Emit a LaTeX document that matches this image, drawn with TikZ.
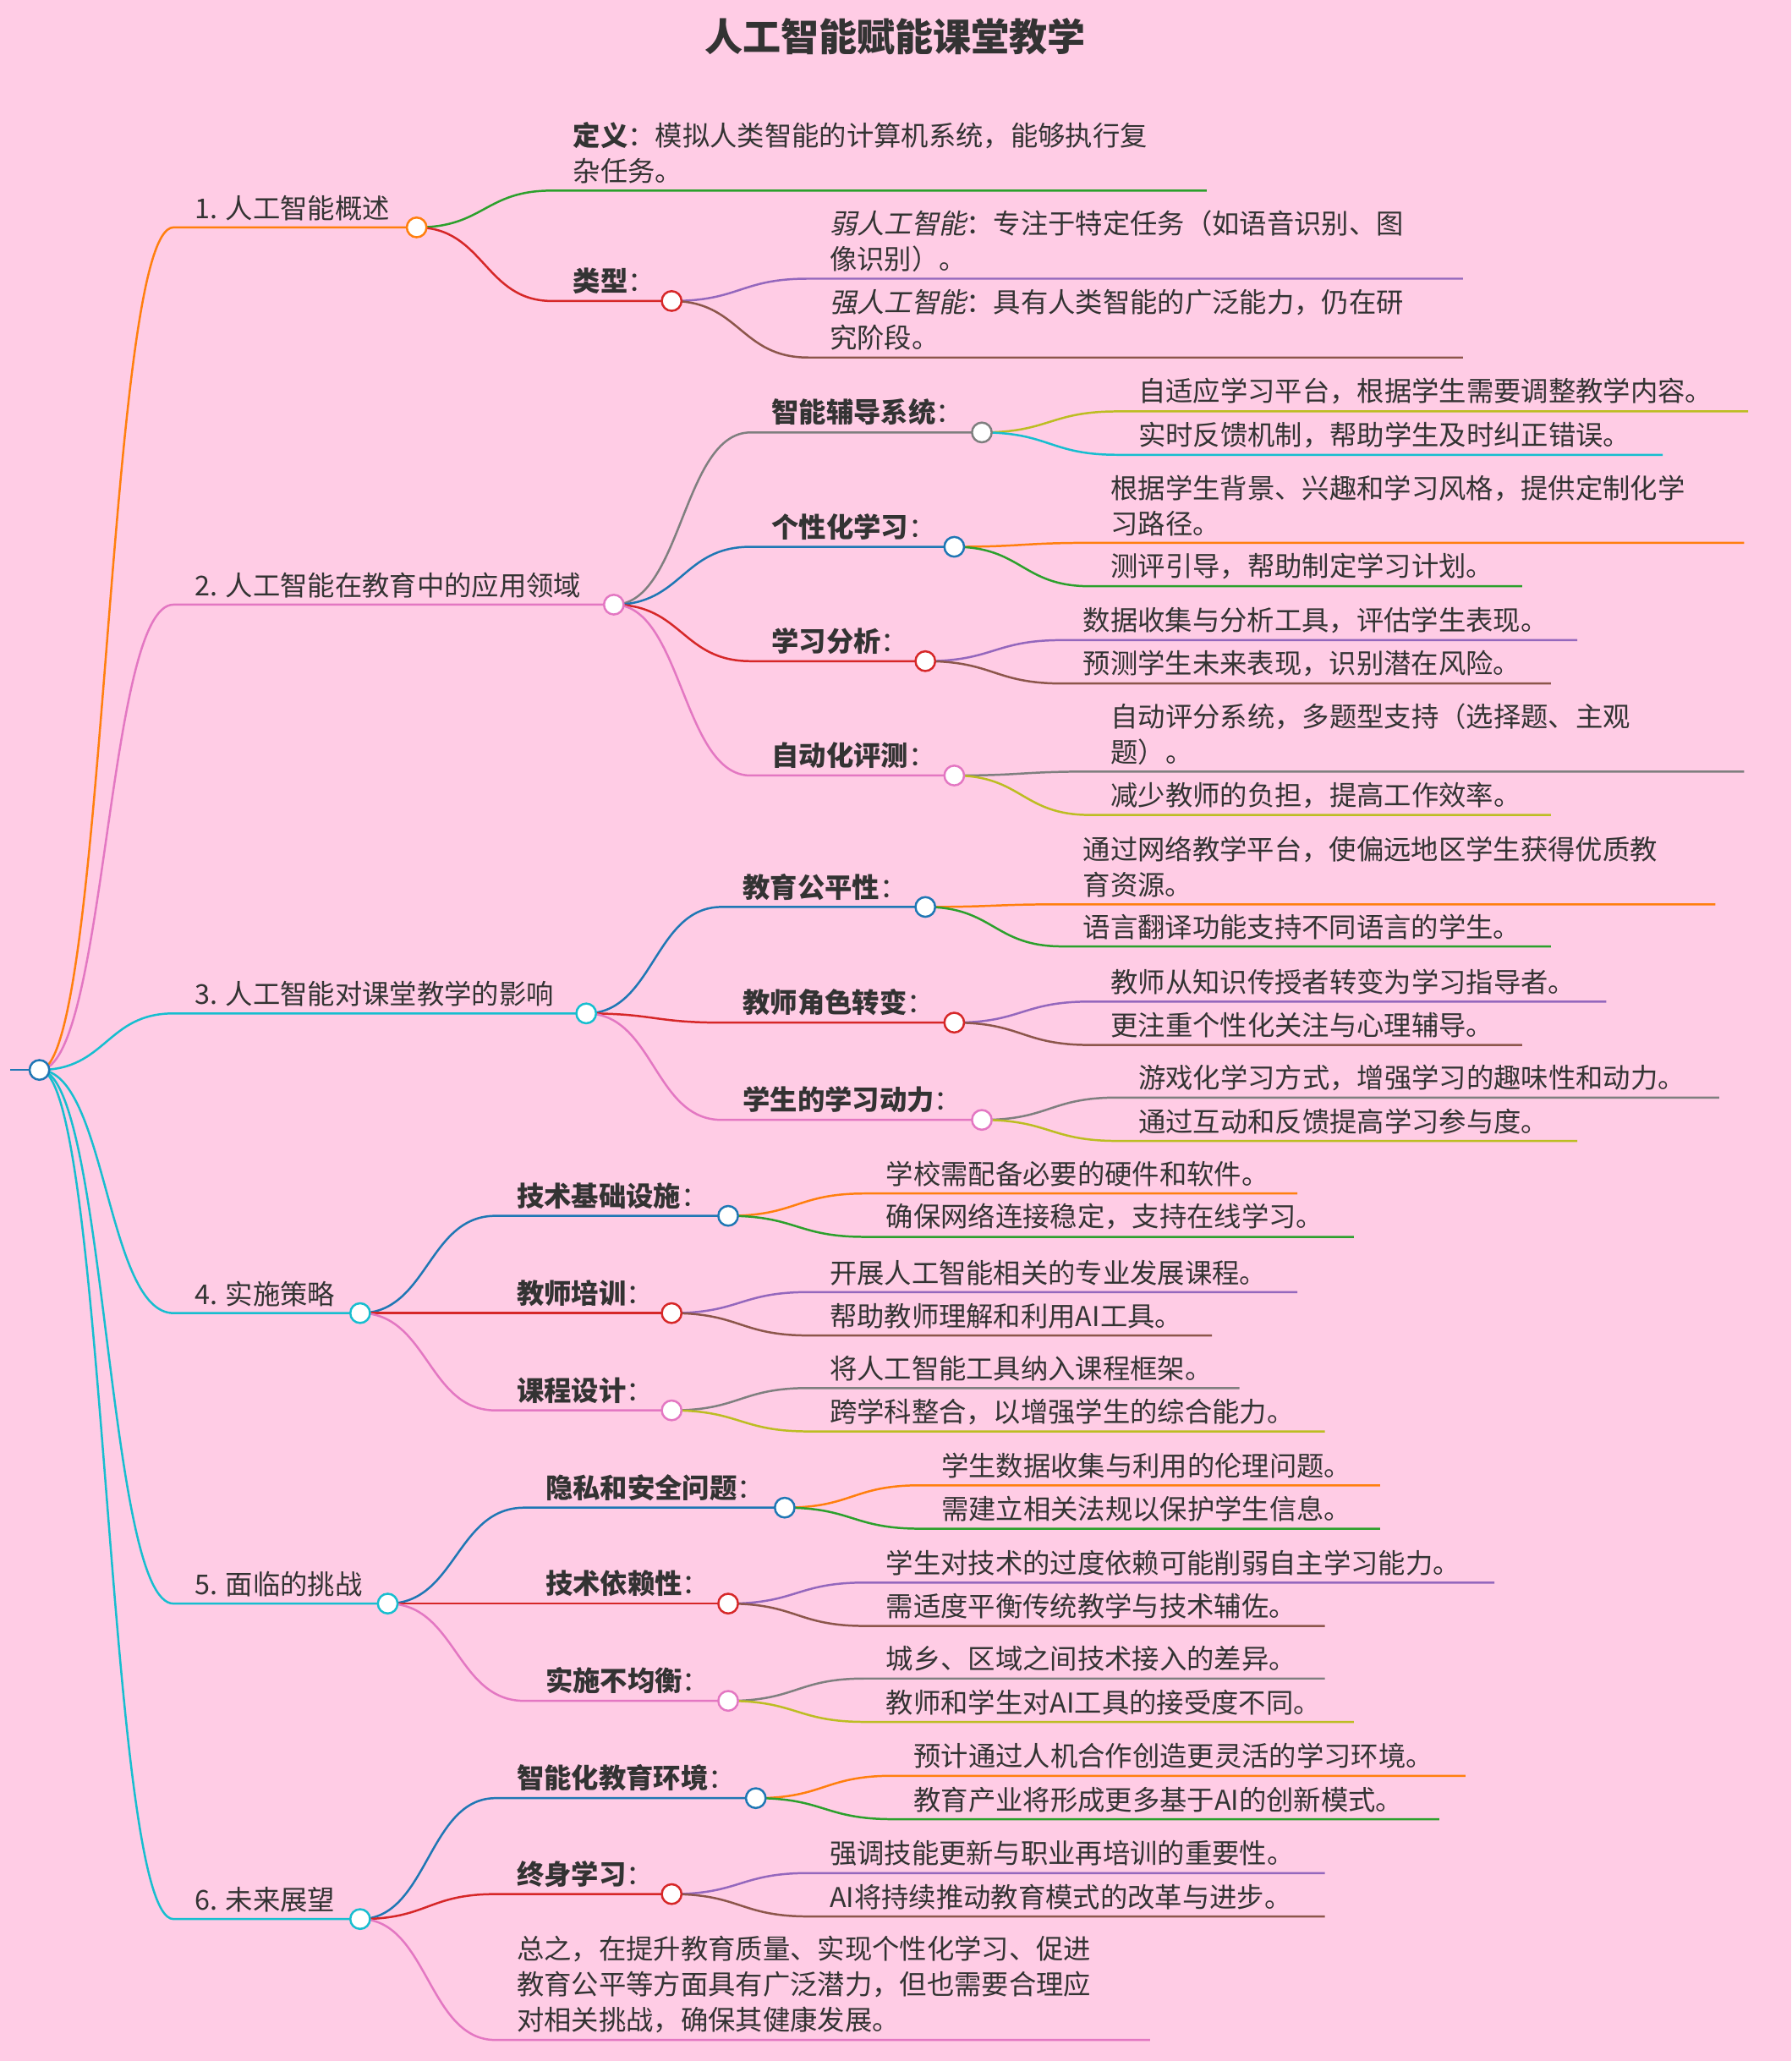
\documentclass[tikz,border=0pt]{standalone}
\usepackage{fontspec}
\setmainfont{Noto Sans CJK SC}
\newfontfamily\cjkit{Noto Sans CJK SC}[FakeSlant=0.2]
\definecolor{bg}{HTML}{FFCCE5}
\definecolor{txt}{HTML}{333333}
\definecolor{cO}{HTML}{FF7F0E}\definecolor{cG}{HTML}{2CA02C}\definecolor{cR}{HTML}{D62728}
\definecolor{cP}{HTML}{9467BD}\definecolor{cB}{HTML}{8C564B}\definecolor{cK}{HTML}{E377C2}
\definecolor{cY}{HTML}{7F7F7F}\definecolor{cL}{HTML}{BCBD22}\definecolor{cC}{HTML}{17BECF}
\definecolor{cD}{HTML}{1F77B4}
\newcommand\lv[8]{%
 \draw[ln,#6] (#1,#2) .. controls ({(#1+#3)/2},#2) and ({(#1+#3)/2},#4) .. (#3,#4) -- (#5,#4) coordinate (#7);
 \node[tx] (t#7) at ({#3+16},{#4-5}) {#8};}
\newcommand\dt[3]{\node[dotc,draw=#3] at (#1,#2) {};}
\tikzset{ln/.style={line width=1.6pt},
 tx/.style={anchor=south west,inner sep=0pt,text=txt,font=\fontsize{20.8}{27}\selectfont,align=left},
 dotc/.style={circle,fill=white,line width=1.6pt,minimum size=15pt,inner sep=0pt}}
\begin{document}
\begin{tikzpicture}[x=1pt,y=-1pt]
\fill[bg] (0,0) rectangle (1363,1568);
\useasboundingbox (0,0) rectangle (1363,1568);
\node[text=txt,font=\fontsize{29}{32}\selectfont\bfseries] (title) at (681,28) {人工智能赋能课堂教学};
\draw[ln,cD] (8,814) -- (30,814);
% level 1
\lv{30}{814}{132}{173}{317}{cO}{a}{1. 人工智能概述}
\lv{30}{814}{132}{460}{467}{cK}{b}{2. 人工智能在教育中的应用领域}
\lv{30}{814}{132}{771}{446}{cC}{c}{3. 人工智能对课堂教学的影响}
\lv{30}{814}{132}{999}{274}{cC}{d}{4. 实施策略}
\lv{30}{814}{132}{1220}{295}{cC}{e}{5. 面临的挑战}
\lv{30}{814}{132}{1460}{274}{cC}{f}{6. 未来展望}
% 1
\lv{317}{173}{420}{145}{918}{cG}{a1}{\textbf{定义}：模拟人类智能的计算机系统，能够执行复\\杂任务。}
\lv{317}{173}{420}{229}{511}{cR}{a2}{\textbf{类型}：}
\lv{511}{229}{615}{212}{1113}{cP}{a21}{{\cjkit 弱人工智能}：专注于特定任务（如语音识别、图\\像识别）。}
\lv{511}{229}{615}{272}{1113}{cB}{a22}{{\cjkit 强人工智能}：具有人类智能的广泛能力，仍在研\\究阶段。}
% 2
\lv{467}{460}{571}{329}{747}{cY}{b1}{\textbf{智能辅导系统}：}
\lv{747}{329}{850}{313}{1330}{cL}{b11}{自适应学习平台，根据学生需要调整教学内容。}
\lv{747}{329}{850}{346}{1265}{cC}{b12}{实时反馈机制，帮助学生及时纠正错误。}
\lv{467}{460}{571}{416}{726}{cD}{b2}{\textbf{个性化学习}：}
\lv{726}{416}{829}{413}{1327}{cO}{b21}{根据学生背景、兴趣和学习风格，提供定制化学\\习路径。}
\lv{726}{416}{829}{446}{1158}{cG}{b22}{测评引导，帮助制定学习计划。}
\lv{467}{460}{571}{503}{704}{cR}{b3}{\textbf{学习分析}：}
\lv{704}{503}{808}{487}{1200}{cP}{b31}{数据收集与分析工具，评估学生表现。}
\lv{704}{503}{808}{520}{1180}{cB}{b32}{预测学生未来表现，识别潜在风险。}
\lv{467}{460}{571}{590}{726}{cK}{b4}{\textbf{自动化评测}：}
\lv{726}{590}{829}{587}{1327}{cY}{b41}{自动评分系统，多题型支持（选择题、主观\\题）。}
\lv{726}{590}{829}{620}{1180}{cL}{b42}{减少教师的负担，提高工作效率。}
% 3
\lv{446}{771}{549}{690}{704}{cD}{c1}{\textbf{教育公平性}：}
\lv{704}{690}{808}{688}{1305}{cO}{c11}{通过网络教学平台，使偏远地区学生获得优质教\\育资源。}
\lv{704}{690}{808}{720}{1180}{cG}{c12}{语言翻译功能支持不同语言的学生。}
\lv{446}{771}{549}{778}{726}{cR}{c2}{\textbf{教师角色转变}：}
\lv{726}{778}{829}{762}{1222}{cP}{c21}{教师从知识传授者转变为学习指导者。}
\lv{726}{778}{829}{795}{1158}{cB}{c22}{更注重个性化关注与心理辅导。}
\lv{446}{771}{549}{852}{747}{cK}{c3}{\textbf{学生的学习动力}：}
\lv{747}{852}{850}{835}{1308}{cY}{c31}{游戏化学习方式，增强学习的趣味性和动力。}
\lv{747}{852}{850}{868}{1200}{cL}{c32}{通过互动和反馈提高学习参与度。}
% 4
\lv{274}{999}{377}{925}{554}{cD}{d1}{\textbf{技术基础设施}：}
\lv{554}{925}{658}{908}{987}{cO}{d11}{学校需配备必要的硬件和软件。}
\lv{554}{925}{658}{941}{1030}{cG}{d12}{确保网络连接稳定，支持在线学习。}
\lv{274}{999}{377}{999}{511}{cR}{d2}{\textbf{教师培训}：}
\lv{511}{999}{615}{983}{987}{cP}{d21}{开展人工智能相关的专业发展课程。}
\lv{511}{999}{615}{1016}{922}{cB}{d22}{帮助教师理解和利用AI工具。}
\lv{274}{999}{377}{1073}{511}{cK}{d3}{\textbf{课程设计}：}
\lv{511}{1073}{615}{1056}{943}{cY}{d31}{将人工智能工具纳入课程框架。}
\lv{511}{1073}{615}{1089}{1008}{cL}{d32}{跨学科整合，以增强学生的综合能力。}
% 5
\lv{295}{1220}{399}{1147}{597}{cD}{e1}{\textbf{隐私和安全问题}：}
\lv{597}{1147}{700}{1130}{1050}{cO}{e11}{学生数据收集与利用的伦理问题。}
\lv{597}{1147}{700}{1163}{1050}{cG}{e12}{需建立相关法规以保护学生信息。}
\lv{295}{1220}{399}{1220}{554}{cR}{e2}{\textbf{技术依赖性}：}
\lv{554}{1220}{658}{1204}{1137}{cP}{e21}{学生对技术的过度依赖可能削弱自主学习能力。}
\lv{554}{1220}{658}{1237}{1008}{cB}{e22}{需适度平衡传统教学与技术辅佐。}
\lv{295}{1220}{399}{1294}{554}{cK}{e3}{\textbf{实施不均衡}：}
\lv{554}{1294}{658}{1277}{1008}{cY}{e31}{城乡、区域之间技术接入的差异。}
\lv{554}{1294}{658}{1310}{1030}{cL}{e32}{教师和学生对AI工具的接受度不同。}
% 6
\lv{274}{1460}{377}{1368}{575}{cD}{f1}{\textbf{智能化教育环境}：}
\lv{575}{1368}{679}{1351}{1115}{cO}{f11}{预计通过人机合作创造更灵活的学习环境。}
\lv{575}{1368}{679}{1384}{1095}{cG}{f12}{教育产业将形成更多基于AI的创新模式。}
\lv{274}{1460}{377}{1441}{511}{cR}{f2}{\textbf{终身学习}：}
\lv{511}{1441}{615}{1425}{1008}{cP}{f21}{强调技能更新与职业再培训的重要性。}
\lv{511}{1441}{615}{1458}{1008}{cB}{f22}{AI将持续推动教育模式的改革与进步。}
\lv{274}{1460}{377}{1552}{875}{cK}{f3}{总之，在提升教育质量、实现个性化学习、促进\\教育公平等方面具有广泛潜力，但也需要合理应\\对相关挑战，确保其健康发展。}
% dots
\dt{30}{814}{cD}
\dt{317}{173}{cO}\dt{467}{460}{cK}\dt{446}{771}{cC}\dt{274}{999}{cC}\dt{295}{1220}{cC}\dt{274}{1460}{cC}
\dt{511}{229}{cR}
\dt{747}{329}{cY}\dt{726}{416}{cD}\dt{704}{503}{cR}\dt{726}{590}{cK}
\dt{704}{690}{cD}\dt{726}{778}{cR}\dt{747}{852}{cK}
\dt{554}{925}{cD}\dt{511}{999}{cR}\dt{511}{1073}{cK}
\dt{597}{1147}{cD}\dt{554}{1220}{cR}\dt{554}{1294}{cK}
\dt{575}{1368}{cD}\dt{511}{1441}{cR}
\end{tikzpicture}
\end{document}
